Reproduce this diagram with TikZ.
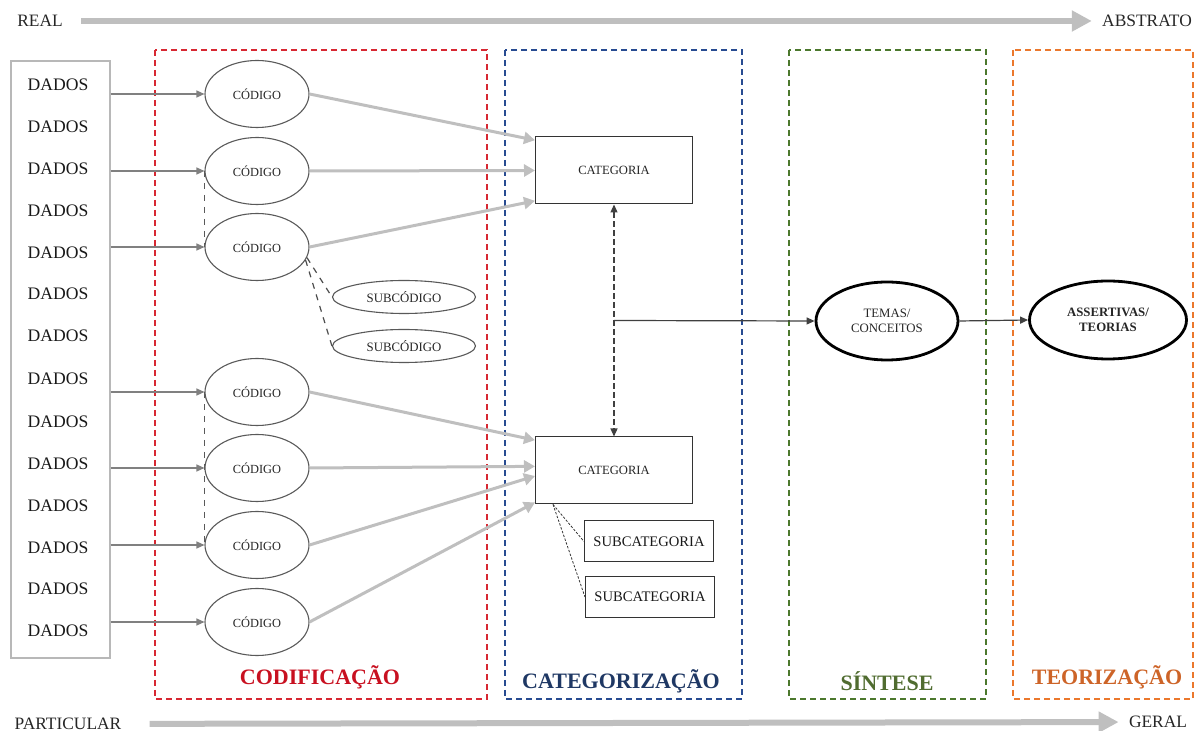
\documentclass[tikz,border=0pt]{standalone}
\usepackage{fontspec}
\setmainfont{Liberation Serif}
\usepackage{xcolor}
\usetikzlibrary{arrows.meta}
\usetikzlibrary{shapes.geometric}
\usetikzlibrary{calc}

\definecolor{codred}{RGB}{215,40,50}
\definecolor{codredtxt}{RGB}{200,16,32}
\definecolor{catblue}{RGB}{40,75,145}
\definecolor{catbluetxt}{RGB}{31,56,100}
\definecolor{singreen}{RGB}{75,120,45}
\definecolor{singreentxt}{RGB}{80,108,48}
\definecolor{teoorange}{RGB}{235,120,45}
\definecolor{teoorangetxt}{RGB}{205,100,40}

\begin{document}
\begin{tikzpicture}[x=0.5pt,y=-0.5pt,
    dados/.style={inner sep=0pt,text=black!90,font=\fontsize{8.8}{10}\selectfont},
    codigo/.style={ellipse,draw=black!65,line width=0.55pt,inner sep=1pt,minimum width=52pt,minimum height=33.5pt,text=black!85,font=\fontsize{6.2}{7}\selectfont},
    subcodigo/.style={codigo,minimum width=71.5pt,minimum height=16.5pt,font=\fontsize{6.4}{7}\selectfont},
    categoria/.style={draw=black!80,line width=0.5pt,minimum width=78.5pt,minimum height=33.5pt,text=black!85,font=\fontsize{6.3}{7}\selectfont},
    subcategoria/.style={draw=black!80,line width=0.5pt,minimum width=64.5pt,minimum height=20.5pt,text=black!90,font=\fontsize{7.3}{8}\selectfont},
    sintese/.style={ellipse,draw=black,line width=1.4pt,minimum width=71pt,minimum height=39pt,inner sep=1pt,align=center,text=black!85,font=\fontsize{6.4}{7.6}\selectfont},
    fase/.style={line width=0.75pt,dash pattern=on 3pt off 2pt},
    titulo/.style={font=\bfseries\fontsize{11}{13}\selectfont},
    eixo/.style={inner sep=0pt,text=black!85,font=\fontsize{8.7}{10}\selectfont},
    seta/.style={color=black!50,line width=0.6pt,-{Triangle[length=4pt,width=3.5pt]}},
    grossa/.style={color=black!25,line width=1.5pt,-{Triangle[length=5.5pt,width=6pt]}},
    barra/.style={color=black!25,line width=3pt,-{Triangle[length=10pt,width=10pt]}}
    ]
    \useasboundingbox (0,0) rectangle (1200,731);

    \draw[fase, draw=codred] (155,50) rectangle (487,699);
    \draw[fase, draw=catblue] (505,50) rectangle (742,699);
    \draw[fase, draw=singreen] (789,50) rectangle (986,699);
    \draw[fase, draw=teoorange] (1013,50) rectangle (1193,699);

    \node[titulo, text=codredtxt] (L1) at (320,677) {CODIFICAÇÃO};
    \node[titulo, text=catbluetxt] (L2) at (621,681) {CATEGORIZAÇÃO};
    \node[titulo, text=singreentxt] (L3) at (887,681) {SÍNTESE};
    \node[titulo, text=teoorangetxt] (L4) at (1107,677) {TEORIZAÇÃO};

    \node[eixo] (R) at (40,21) {REAL};
    \node[eixo] (A) at (1147,21) {ABSTRATO};
    \node[eixo] (P) at (68,724) {PARTICULAR};
    \node[eixo] (G) at (1158,722) {GERAL};
    \path [barra, shorten <=9pt, shorten >=5pt] (R) edge (A);
    \path [barra, shorten <=14pt, shorten >=5pt] (P) edge (G);

    \node[draw=black!28, line width=0.7pt, minimum width=49.5pt, minimum height=298.5pt] (D) at (60.5,359.5) {};
    \node[dados] (D1) at (58,85) {DADOS};
    \node[dados] (D2) at (58,127) {DADOS};
    \node[dados] (D3) at (58,169) {DADOS};
    \node[dados] (D4) at (58,211) {DADOS};
    \node[dados] (D5) at (58,253) {DADOS};
    \node[dados] (D6) at (58,294) {DADOS};
    \node[dados] (D7) at (58,336) {DADOS};
    \node[dados] (D8) at (58,379) {DADOS};
    \node[dados] (D9) at (58,422) {DADOS};
    \node[dados] (D10) at (58,464) {DADOS};
    \node[dados] (D11) at (58,506) {DADOS};
    \node[dados] (D12) at (58,548) {DADOS};
    \node[dados] (D13) at (58,589) {DADOS};
    \node[dados] (D14) at (58,631) {DADOS};

    \node[codigo] (C1) at (257,94) {CÓDIGO};
    \node[codigo] (C2) at (257,171) {CÓDIGO};
    \node[codigo] (C3) at (257,247) {CÓDIGO};
    \node[codigo] (C4) at (257,392) {CÓDIGO};
    \node[codigo] (C5) at (257,468) {CÓDIGO};
    \node[codigo] (C6) at (257,545) {CÓDIGO};
    \node[codigo] (C7) at (257,622) {CÓDIGO};
    \node[subcodigo] (S1) at (404,297) {SUBCÓDIGO};
    \node[subcodigo] (S2) at (404,346) {SUBCÓDIGO};

    \node[categoria] (K1) at (614,170.5) {CATEGORIA};
    \node[categoria] (K2) at (614,470.5) {CATEGORIA};
    \node[subcategoria] (K3) at (649,541.5) {SUBCATEGORIA};
    \node[subcategoria] (K4) at (650,597) {SUBCATEGORIA};

    \node[sintese] (T1) at (887,321) {TEMAS/\\CONCEITOS};
    \node[sintese, minimum width=78.5pt, font=\bfseries\fontsize{6.4}{7.6}\selectfont] (T2) at (1108,320) {ASSERTIVAS/\\TEORIAS};

    \path [seta] (D.east |- C1) edge (C1.west);
    \path [seta] (D.east |- C2) edge (C2.west);
    \path [seta] (D.east |- C3) edge (C3.west);
    \path [seta] (D.east |- C4) edge (C4.west);
    \path [seta] (D.east |- C5) edge (C5.west);
    \path [seta] (D.east |- C6) edge (C6.west);
    \path [seta] (D.east |- C7) edge (C7.west);

    \path [dashed, black!65, line width=0.6pt] (C2.west) edge (C3.west);
    \path [dashed, black!65, line width=0.6pt] (C4.west) edge (C6.west);
    \path [dashed, black!70, line width=0.6pt] (C3.-12) edge (S1.west);
    \path [dashed, black!70, line width=0.6pt] (C3.-15) edge (S2.west);

    \path [grossa] (C1.east) edge (K1.159);
    \path [grossa] (C2.east) edge (K1.west);
    \path [grossa] (C3.east) edge (K1.-159);
    \path [grossa] (C4.east) edge (K2.159);
    \path [grossa] (C5.east) edge (K2.177);
    \path [grossa] (C6.east) edge (K2.-176);
    \path [grossa] (C7.east) edge (K2.-158);

    \path [black!75, line width=0.6pt, dash pattern=on 3pt off 1.5pt, {Triangle[length=4pt,width=3.5pt]}-{Triangle[length=4pt,width=3.5pt]}] (K1.south) edge (K2.north);
    \coordinate (M) at ($(K1.south)!0.5!(K2.north)$);
    \path [seta, color=black!75] (M) edge (T1.west);
    \path [seta, color=black!75] (T1.east) edge (T2.west);

    \coordinate (Q) at ($(K2.south west)+(18,0)$);
    \path [black!80, line width=0.4pt, dash pattern=on 1.2pt off 0.8pt] (Q) edge (K3.west);
    \path [black!80, line width=0.4pt, dash pattern=on 1.2pt off 0.8pt] (Q) edge (K4.west);
\end{tikzpicture}
\end{document}
